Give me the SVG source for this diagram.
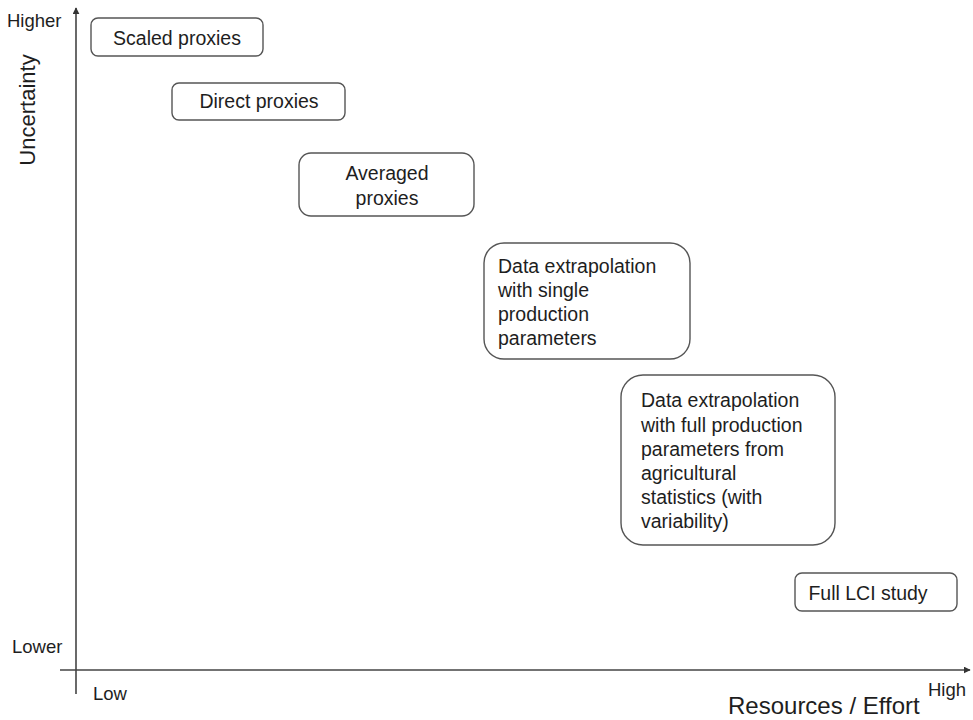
<svg xmlns="http://www.w3.org/2000/svg" width="973" height="720" viewBox="0 0 973 720">
<style>
text{font-family:"Liberation Sans",Arial,sans-serif;fill:#1e1e1e}
.n{font-size:19.5px}
.s{font-size:18.5px}
.box{fill:#fff;stroke:#555;stroke-width:1.4}
.ax{stroke:#444;stroke-width:1.6;fill:none}
</style>
<defs>
<marker id="ah" viewBox="0 0 10 10" refX="9" refY="5" markerWidth="7" markerHeight="7" markerUnits="userSpaceOnUse" orient="auto"><path d="M0,0L10,5L0,10z" fill="#333"/></marker>
</defs>
<rect width="973" height="720" fill="#fff"/>
<g id="connectors">
<line class="ax" x1="76" y1="694" x2="76" y2="8" marker-end="url(#ah)"/>
<line class="ax" x1="60" y1="670" x2="970" y2="670" marker-end="url(#ah)"/>
</g>
<g id="axis-labels">
<text class="s" x="7" y="27">Higher</text>
<text class="s" x="12" y="653">Lower</text>
<text class="s" x="93" y="700">Low</text>
<text class="s" x="928" y="696">High</text>
<text x="728" y="714" font-size="24">Resources / Effort</text>
<text transform="translate(35,110) rotate(-90)" text-anchor="middle" font-size="22">Uncertainty</text>
</g>
<g id="scaled">
<rect class="box" x="91" y="18" width="172" height="38" rx="7"/>
<text class="n" x="177" y="45" text-anchor="middle">Scaled proxies</text>
</g>
<g id="direct">
<rect class="box" x="172" y="83" width="173" height="37" rx="7"/>
<text class="n" x="259" y="108" text-anchor="middle">Direct proxies</text>
</g>
<g id="averaged">
<rect class="box" x="299" y="153" width="175" height="63" rx="12"/>
<text class="n" x="387" y="180" text-anchor="middle">Averaged</text>
<text class="n" x="387" y="205" text-anchor="middle">proxies</text>
</g>
<g id="single">
<rect class="box" x="484" y="243" width="206" height="116" rx="20"/>
<text class="n" x="498" y="273">Data extrapolation</text>
<text class="n" x="498" y="297">with single</text>
<text class="n" x="498" y="321">production</text>
<text class="n" x="498" y="345">parameters</text>
</g>
<g id="full">
<rect class="box" x="621" y="375" width="214" height="170" rx="22"/>
<text class="n" x="641" y="407">Data extrapolation</text>
<text class="n" x="641" y="432">with full production</text>
<text class="n" x="641" y="456">parameters from</text>
<text class="n" x="641" y="480">agricultural</text>
<text class="n" x="641" y="504">statistics (with</text>
<text class="n" x="641" y="528">variability)</text>
</g>
<g id="lci">
<rect class="box" x="795" y="573" width="162" height="38" rx="7"/>
<text class="n" x="868" y="600" text-anchor="middle">Full LCI study</text>
</g>
</svg>
